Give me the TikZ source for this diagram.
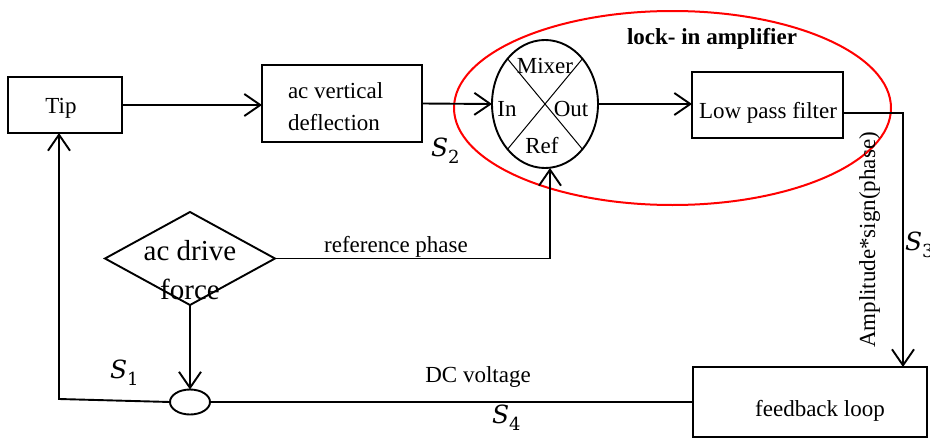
\documentclass[tikz,border=0pt]{standalone}
\usepackage{fontspec}
\setmainfont{Liberation Serif}
\newfontfamily\sigfont{DejaVu Serif}
\usetikzlibrary{shapes.geometric,arrows.meta,calc}
\newcommand{\sigl}[1]{\sigfont\itshape S\upshape\raisebox{-0.28em}{\fontsize{18}{20}\selectfont #1}}
\begin{document}
\begin{tikzpicture}[x=1pt,y=-1pt,
  every node/.style={inner sep=0pt,outer sep=0pt},
  box/.style={draw,line width=1.9pt,rectangle},
  arr/.style={line width=1.9pt,-{Straight Barb[length=16pt,width=22pt,line width=1.9pt]}},
  ln/.style={line width=1.9pt},
  txt/.style={font=\fontsize{23}{28}\selectfont,anchor=base},
  big/.style={font=\fontsize{29}{39}\selectfont,anchor=base},
  sig/.style={font=\fontsize{25}{30}\selectfont,anchor=base}]
\useasboundingbox (0,0) rectangle (930,439);
% nodes
\node[box,minimum width=114pt,minimum height=56pt] (tip) at (65,105) {};
\node[box,minimum width=160pt,minimum height=77pt] (acv) at (342,103.5) {};
\node[draw,ellipse,line width=1.9pt,minimum width=106pt,minimum height=128pt] (mixer) at (545,104) {};
\node[box,minimum width=151pt,minimum height=66pt] (lpf) at (767.5,105) {};
\node[box,minimum width=234pt,minimum height=70pt] (fb) at (810,402) {};
\node[draw,diamond,line width=1.9pt,minimum width=170pt,minimum height=93pt,aspect=1.83] (drive) at (190,258.5) {};
\node[draw,ellipse,line width=1.9pt,minimum width=40pt,minimum height=25pt] (sum) at (190,402) {};
\node[draw=red,ellipse,line width=2pt,minimum width=437pt,minimum height=194pt] (lock) at (672.5,108) {};
% mixer cross
\draw[line width=1pt] ($(mixer.center)+(135:53pt and 64pt)$) -- ($(mixer.center)+(-45:53pt and 64pt)$);
\draw[line width=1pt] ($(mixer.center)+(45:53pt and 64pt)$) -- ($(mixer.center)+(-135:53pt and 64pt)$);
% texts
\node[txt] (ttip) at (61,113) {Tip};
\node[txt,anchor=base west] (tacv1) at (288,98) {ac vertical};
\node[txt,anchor=base west] (tacv2) at (288,130) {deflection};
\node[txt] (tmix) at (545,73) {Mixer};
\node[txt] (tin) at (507,116) {In};
\node[txt] (tout) at (571,116) {Out};
\node[txt] (tref) at (542,153) {Ref};
\node[txt] (tlpf) at (768,118) {Low pass filter};
\node[txt,font=\fontsize{23}{28}\selectfont\bfseries] (tlock) at (712,44) {lock- in amplifier};
\node[txt] (tfb) at (820,416) {feedback loop};
\node[big] (tdr1) at (190,260) {ac drive};
\node[big] (tdr2) at (190,299) {force};
\node[txt] (tref2) at (396,252) {reference phase};
\node[txt] (tdc) at (478,382) {DC voltage};
\node[txt,rotate=90] (tamp) at (875,240) {Amplitude*sign(phase)};
\node[sig,anchor=base west] (s1) at (110,378) {\sigl{1}};
\node[sig,anchor=base west] (s2) at (431,156) {\sigl{2}};
\node[sig,anchor=base west] (s3) at (905,250) {\sigl{3}};
\node[sig,anchor=base west] (s4) at (492,423) {\sigl{4}};
% connectors
\coordinate (c1) at (59,399);
\coordinate (c2) at (550,258.5);
\coordinate (c3) at (903,113);
\draw[arr] (tip.east) -- (tip.east -| acv.west);
\draw[arr] (acv.east) -- (mixer.west);
\draw[arr] (mixer.east) -- (mixer.east -| lpf.west);
\draw[arr] (lpf.east |- c3) -- (c3) -- (c3 |- fb.north);
\draw[arr] (drive.east) -- (c2) -- (c2 |- mixer.south);
\draw[arr] (drive.south) -- (sum.north);
\draw[ln] (fb.west) -- (sum.east);
\draw[arr] (sum.west) -- (c1) -- (c1 |- tip.south);
\end{tikzpicture}
\end{document}
